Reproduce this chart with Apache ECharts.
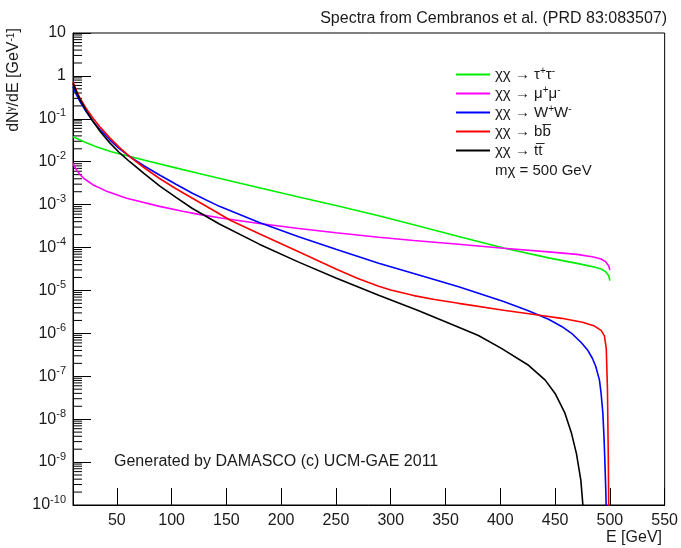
<!DOCTYPE html>
<html><head><meta charset="utf-8">
<script src="https://cdn.jsdelivr.net/npm/echarts@6/dist/echarts.min.js"></script>
<style>html,body{margin:0;padding:0;background:#fff}#c{width:681px;height:548px}</style>
</head><body><div id="c"></div>
<script>
// ---- data (E in GeV, dN/dE in GeV^-1) ----
const energyTau = [10,20,30,45,62,80,100,125,150,180,216,250,289,321,362,403,444,470,485,492,496,499,500];
const dndeTau   = [3.8e-2,2.92e-2,2.29e-2,1.70e-2,1.32e-2,1.01e-2,7.59e-3,5.31e-3,3.76e-3,2.48e-3,1.51e-3,9.55e-4,5.5e-4,3.39e-4,1.80e-4,9.77e-5,5.75e-5,4.27e-5,3.55e-5,3.16e-5,2.75e-5,2.19e-5,1.70e-5];

const energyMu = [10,12,14,16.4,20,28,40,59,89,110,125,145,180,216,250,289,321,362,403,444,470,485,492,496,499,500];
const dndeMu   = [9.12e-3,7.24e-3,6.03e-3,5.01e-3,4.07e-3,2.92e-3,2.09e-3,1.41e-3,9.12e-4,7.0e-4,5.93e-4,4.86e-4,3.63e-4,2.79e-4,2.22e-4,1.74e-4,1.46e-4,1.19e-4,9.64e-5,7.94e-5,6.92e-5,6.0e-5,5.4e-5,4.7e-5,3.7e-5,3.0e-5];

const energyW = [10,13,16.4,22,28.5,35,43.6,52,61.8,75,89,104,119.4,143.6,180,216,250,289,321,362,403,425,444,456,466,474,480,484,487,490.5,492,493.6,494.6,495.4,496.2,496.8,497.4];
const dndeW   = [0.562,0.372,0.251,0.148,8.51e-2,5.50e-2,3.24e-2,2.04e-2,1.32e-2,7.94e-3,4.90e-3,2.99e-3,1.82e-3,9.12e-4,3.85e-4,1.79e-4,9.12e-5,4.33e-5,2.47e-5,1.22e-5,5.5e-6,3.39e-6,2.14e-6,1.45e-6,9.55e-7,6.03e-7,3.98e-7,2.63e-7,1.74e-7,8.13e-8,3.98e-8,1.38e-8,3.98e-9,1.12e-9,2.51e-10,6.3e-11,1e-11];

const energyB = [10,13,16.4,22,28.5,35,43.6,52,61.8,75,89,104,119,136,154,180,216,250,270,289,300,321,340,362,403,431,456,475,486,492,495,496.7,497.8,498.6,499.2];
const dndeB   = [0.733,0.462,0.302,0.174,0.102,6.31e-2,3.59e-2,2.19e-2,1.32e-2,7.24e-3,4.07e-3,2.34e-3,1.41e-3,7.94e-4,4.27e-4,2.09e-4,7.94e-5,3.16e-5,1.91e-5,1.26e-5,1.02e-5,7.59e-6,6.17e-6,5.01e-6,3.47e-6,2.75e-6,2.24e-6,1.82e-6,1.48e-6,1.17e-6,8.7e-7,4.47e-7,5e-8,1e-9,1e-11];

const energyT = [10,13,16.4,22,28.5,35,43.6,52,61.8,75,89,104,119,143.6,180,216,250,289,325,362,380,401,425,441,450,459,465,469.5,473.5,475.5,477];
const dndeT   = [0.676,0.437,0.282,0.155,8.51e-2,5.01e-2,2.75e-2,1.66e-2,1.00e-2,5.25e-3,2.75e-3,1.48e-3,8.13e-4,3.55e-4,1.20e-4,4.57e-5,1.95e-5,7.76e-6,3.39e-6,1.38e-6,8.9e-7,4.47e-7,1.86e-7,8.13e-8,3.98e-8,1.38e-8,4.68e-9,1.58e-9,3.8e-10,9.1e-11,1e-11];

const seriesNames  = ['χχ → τ+τ-','χχ → μ+μ-','χχ → W+W-','χχ → bb̄','χχ → tt̄'];
const legendLabels = ['χχ → τ{s|+}τ{s|-}','χχ → μ{s|+}μ{s|-}','χχ → W{s|+}W{s|-}','χχ → bb\u0305','χχ → tt\u0305'];
const seriesColors = ['#00ee00','#ff00ff','#0000ff','#ff0000','#000000'];
const xTickValues = [50,100,150,200,250,300,350,400,450,500,550];
const yMin = 1e-10, yMax = 10, xMin = 10, xMax = 550;

const FONT = '"Liberation Sans", Arial, sans-serif';
const pairs = (xs, ys) => xs.map((x, i) => [x, ys[i]]);
const allData = [pairs(energyTau,dndeTau), pairs(energyMu,dndeMu), pairs(energyW,dndeW), pairs(energyB,dndeB), pairs(energyT,dndeT)];

// minor log ticks (2..9 x 10^d) on the y axis
const minorTicks = [];
for (let d = -10; d <= 0; d++) for (let k = 2; k <= 9; k++) minorTicks.push([xMin, k * Math.pow(10, d)]);

const chart = echarts.init(document.getElementById('c'), null, {renderer: 'canvas'});
const lineSeries = seriesNames.map((n, i) => ({
  name: n, type: 'line', data: allData[i], symbol: 'none', showSymbol: false,
  smooth: false, clip: true,
  lineStyle: {color: seriesColors[i], width: 1.6}, itemStyle: {color: seriesColors[i]},
  z: 3, animation: false
}));

chart.setOption({
  animation: false,
  textStyle: {fontFamily: FONT},
  grid: {left: 73, right: 14, top: 33, bottom: 43, show: true, borderColor: '#000', borderWidth: 1, backgroundColor: 'transparent'},
  title: [
    {text: 'Spectra from Cembranos et al. (PRD 83:083507)', right: 9, top: 6, textStyle: {fontSize: 16, fontWeight: 'normal', color: '#1a1a1a', fontFamily: FONT}},
    {text: 'Generated by DAMASCO (c) UCM-GAE 2011', left: 109, top: 449, textStyle: {fontSize: 16, fontWeight: 'normal', color: '#1a1a1a', fontFamily: FONT}},
    {text: 'mχ = 500 GeV', left: 490, top: 158, textStyle: {fontSize: 15, fontWeight: 'normal', color: '#1a1a1a', fontFamily: FONT}},
    {text: 'E [GeV]', right: 14, top: 525, textStyle: {fontSize: 16, fontWeight: 'normal', color: '#1a1a1a', fontFamily: FONT}}
  ],
  legend: {
    orient: 'vertical', left: 451, top: 61, icon: 'rect', itemWidth: 34, itemHeight: 2, itemGap: 2,
    selectedMode: false, data: seriesNames,
    formatter: name => legendLabels[seriesNames.indexOf(name)],
    textStyle: {fontSize: 15, color: '#1a1a1a', fontFamily: FONT, lineHeight: 17,
      rich: {s: {fontSize: 10, lineHeight: 10, verticalAlign: 'top', fontFamily: FONT, color: '#1a1a1a'}}}
  },
  xAxis: {
    type: 'value', min: xMin, max: xMax,
    axisLine: {show: true, lineStyle: {color: '#000', width: 1}},
    axisTick: {show: true, inside: true, length: 17, customValues: xTickValues, lineStyle: {color: '#000'}},
    axisLabel: {show: true, customValues: xTickValues, margin: 8, fontSize: 16, color: '#1a1a1a', fontFamily: FONT},
    splitLine: {show: false}
  },
  yAxis: {
    type: 'log', logBase: 10, min: yMin, max: yMax, interval: 1,
    axisLine: {show: true, lineStyle: {color: '#000', width: 1}},
    axisTick: {show: true, inside: true, length: 18, lineStyle: {color: '#000'}},
    axisLabel: {
      show: true, margin: 7, fontSize: 16, color: '#1a1a1a', fontFamily: FONT, lineHeight: 22, interval: 0, hideOverlap: false,
      formatter: v => {
        const e = Math.round(Math.log10(v));
        if (e === 1) return '10';
        if (e === 0) return '1';
        return '10{sup|' + e + '}';
      },
      rich: {sup: {fontSize: 11, lineHeight: 12, verticalAlign: 'top', fontFamily: FONT, color: '#1a1a1a'}}
    },
    splitLine: {show: false}, minorTick: {show: false}
  },
  graphic: [{
    type: 'text', x: 14, y: 80, rotation: Math.PI / 2,
    style: {text: 'dN{s|γ}/dE [GeV{s|-1}]', fill: '#1a1a1a', font: '16px ' + FONT, align: 'center', verticalAlign: 'middle',
      rich: {s: {fontSize: 10, verticalAlign: 'top', lineHeight: 10, fill: '#1a1a1a', fontFamily: FONT}}}
  }],
  series: lineSeries.concat([{
    type: 'custom', name: 'minorTicks', data: minorTicks, silent: true, z: 2,
    renderItem: (params, api) => {
      const p = api.coord([api.value(0), api.value(1)]);
      return {type: 'line', shape: {x1: p[0], y1: p[1], x2: p[0] + 9, y2: p[1]}, style: {stroke: '#000', lineWidth: 1}};
    }
  }])
});
</script>
</body></html>
